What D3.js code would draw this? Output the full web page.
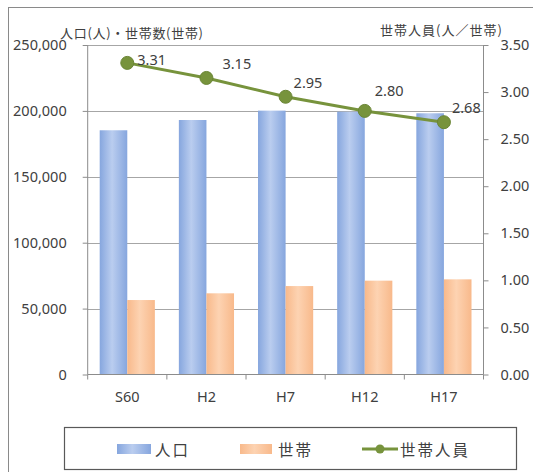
<!DOCTYPE html>
<html><head><meta charset="utf-8">
<script src="https://cdn.jsdelivr.net/npm/d3@7"></script>
<style>
html,body{margin:0;padding:0;background:#fff;}
svg{display:block;}
</style></head>
<body>
<svg id="chart" width="533" height="472"></svg>
<script>
// ---- data ----
const categories = ["S60", "H2", "H7", "H12", "H17"];
const population = [185300, 193100, 200200, 199400, 198200];
const households = [56500, 61600, 67100, 71200, 72200];
const perHousehold = [3.31, 3.15, 2.95, 2.80, 2.68];
const leftTicks = [0, 50000, 100000, 150000, 200000, 250000];
const rightTicks = [0, 0.5, 1.0, 1.5, 2.0, 2.5, 3.0, 3.5];
const seriesNames = ["人口", "世帯", "世帯人員"];
const leftTitle = "人口(人)・世帯数(世帯)";
const rightTitle = "世帯人員(人／世帯)";

// ---- layout ----
const W = 533, H = 472;
const plot = {l: 87.7, r: 483.5, t: 45, b: 374.5};
const labelOffsets = [[10, -4], [16, -15], [8, -15], [10, -21], [8, -15]];
const numFont = "'Noto Sans', sans-serif";
const jpFont = "'Noto Sans CJK JP', sans-serif";
const textColor = "#404040";
const axisColor = "#8c8c8c";
const lineColor = "#77933C";

const svg = d3.select("#chart");

const defs = svg.append("defs");
function grad(id, edge, mid) {
  const g = defs.append("linearGradient").attr("id", id).attr("x1", "0%").attr("x2", "100%").attr("y1", "0%").attr("y2", "0%");
  g.append("stop").attr("offset", "0%").attr("stop-color", edge);
  g.append("stop").attr("offset", "45%").attr("stop-color", mid);
  g.append("stop").attr("offset", "100%").attr("stop-color", edge);
}
grad("gBlue", "#86A6DE", "#BACDEF");
grad("gOrange", "#F8B98B", "#FDD3B2");

// outer chart border
svg.append("rect").attr("x", 8.5).attr("y", 7.5).attr("width", 560).attr("height", 500)
  .attr("fill", "none").attr("stroke", "#8a8a8a").attr("stroke-width", 1);

const x0 = d3.scaleBand().domain(categories).range([plot.l, plot.r]).paddingInner(0).paddingOuter(0);
const bandW = x0.bandwidth();
const x1 = d3.scaleBand().domain([0, 1]).range([12, bandW - 12]).padding(0);
const yL = d3.scaleLinear().domain([0, 250000]).range([plot.b, plot.t]);
const yR = d3.scaleLinear().domain([0, 3.5]).range([plot.b, plot.t]);

// gridlines
svg.append("g").selectAll("line").data(leftTicks.filter(d => d > 0)).join("line")
  .attr("x1", plot.l).attr("x2", plot.r)
  .attr("y1", d => Math.round(yL(d)) + 0.5).attr("y2", d => Math.round(yL(d)) + 0.5)
  .attr("stroke", "#a6a6a6").attr("stroke-width", 1);

// bars
const barData = [];
categories.forEach((c, i) => {
  barData.push({c, k: 0, v: population[i]});
  barData.push({c, k: 1, v: households[i]});
});
svg.append("g").selectAll("rect").data(barData).join("rect")
  .attr("x", d => x0(d.c) + x1(d.k))
  .attr("width", x1.bandwidth())
  .attr("y", d => yL(d.v))
  .attr("height", d => yL(0) - yL(d.v))
  .attr("fill", d => d.k === 0 ? "url(#gBlue)" : "url(#gOrange)");

// axes
const leftAxis = d3.axisLeft(yL).tickValues(leftTicks).tickSize(5).tickPadding(16)
  .tickFormat(d3.format(","));
const gL = svg.append("g").attr("transform", `translate(${plot.l},0)`).call(leftAxis);
const rightAxis = d3.axisRight(yR).tickValues(rightTicks).tickSize(5).tickPadding(12)
  .tickFormat(d3.format(".2f"));
const gR = svg.append("g").attr("transform", `translate(${plot.r},0)`).call(rightAxis);
const bottomAxis = d3.axisBottom(x0).tickSize(0).tickPadding(17);
const gB = svg.append("g").attr("transform", `translate(0,${plot.b})`).call(bottomAxis);
// category boundary ticks
svg.append("g").selectAll("line").data(d3.range(categories.length + 1)).join("line")
  .attr("x1", i => plot.l + i * bandW).attr("x2", i => plot.l + i * bandW)
  .attr("y1", plot.b).attr("y2", plot.b + 5)
  .attr("stroke", axisColor);

[gL, gR, gB].forEach(g => {
  g.select(".domain").attr("stroke", axisColor);
  g.selectAll(".tick line").attr("stroke", axisColor);
  g.selectAll("text").attr("font-family", numFont).attr("font-size", 14.5).attr("fill", textColor);
});
gL.select(".domain").attr("d", `M0,${plot.t}V${plot.b}`);
gR.select(".domain").attr("d", `M0,${plot.t}V${plot.b}`);
gB.select(".domain").attr("d", `M${plot.l},0H${plot.r}`);

// line series
const pts = categories.map((c, i) => ({x: x0(c) + bandW / 2, y: yR(perHousehold[i]), v: perHousehold[i], i}));
svg.append("path").datum(pts)
  .attr("d", d3.line().x(d => d.x).y(d => d.y))
  .attr("fill", "none").attr("stroke", lineColor).attr("stroke-width", 3);
svg.append("g").selectAll("circle").data(pts).join("circle")
  .attr("cx", d => d.x).attr("cy", d => d.y).attr("r", 6.5)
  .attr("fill", lineColor).attr("stroke", "#6a8535").attr("stroke-width", 1);
svg.append("g").selectAll("text").data(pts).join("text")
  .attr("x", d => d.x + labelOffsets[d.i][0])
  .attr("y", d => d.y + labelOffsets[d.i][1])
  .attr("dominant-baseline", "central")
  .attr("font-family", numFont).attr("font-size", 14.5).attr("fill", textColor)
  .text(d => d3.format(".2f")(d.v));

// axis titles
svg.append("text").attr("x", 60).attr("y", 32).attr("dominant-baseline", "central")
  .attr("font-family", jpFont).attr("font-size", 13).attr("fill", textColor)
  .attr("textLength", 143).attr("lengthAdjust", "spacing")
  .text(leftTitle);
svg.append("text").attr("x", 380).attr("y", 29).attr("dominant-baseline", "central")
  .attr("font-family", jpFont).attr("font-size", 13).attr("fill", textColor)
  .attr("textLength", 122).attr("lengthAdjust", "spacing")
  .text(rightTitle);

// legend
svg.append("rect").attr("x", 64.5).attr("y", 427.5).attr("width", 452).attr("height", 42)
  .attr("fill", "#fff").attr("stroke", "#595959").attr("stroke-width", 1.2);
const ly = 449;
const legendItems = [
  {name: seriesNames[0], type: "bar", fill: "url(#gBlue)", sx: 117, sw: 34, tx: 155},
  {name: seriesNames[1], type: "bar", fill: "url(#gOrange)", sx: 240, sw: 32, tx: 278},
  {name: seriesNames[2], type: "line", sx: 362, sw: 36, tx: 400}
];
const lg = svg.append("g").selectAll("g").data(legendItems).join("g");
lg.filter(d => d.type === "bar").append("rect")
  .attr("x", d => d.sx).attr("y", ly - 5).attr("width", d => d.sw).attr("height", 10)
  .attr("fill", d => d.fill);
const ll = lg.filter(d => d.type === "line");
ll.append("line").attr("x1", d => d.sx).attr("x2", d => d.sx + d.sw)
  .attr("y1", ly).attr("y2", ly).attr("stroke", lineColor).attr("stroke-width", 3);
ll.append("circle").attr("cx", d => d.sx + d.sw / 2).attr("cy", ly).attr("r", 4.5).attr("fill", lineColor);
lg.append("text").attr("x", d => d.tx).attr("y", ly).attr("dominant-baseline", "central")
  .attr("font-family", jpFont).attr("font-size", 15.5).attr("letter-spacing", 2)
  .attr("fill", textColor).text(d => d.name);
</script>
</body></html>
